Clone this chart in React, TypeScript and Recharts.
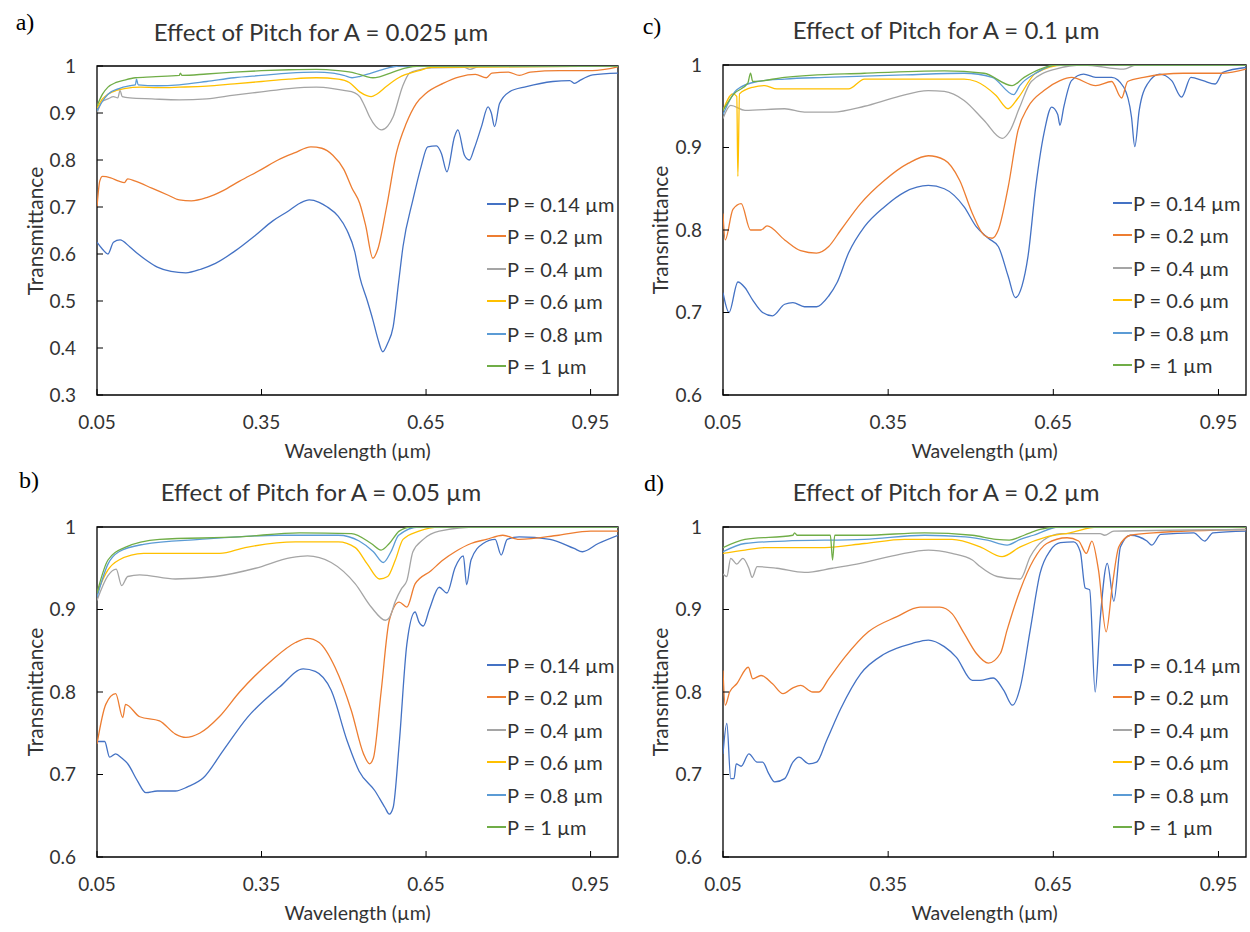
import { LineChart, Line, XAxis, YAxis, ReferenceArea, Legend } from "recharts";

type Pt = [number, number];

const PITCH_LABELS = ["P = 0.14 µm", "P = 0.2 µm", "P = 0.4 µm", "P = 0.6 µm", "P = 0.8 µm", "P = 1 µm"];
const COLORS = ["#4472C4", "#ED7D31", "#A5A5A5", "#FFC000", "#5B9BD5", "#70AD47"];
const X_TICKS = [0.05, 0.35, 0.65, 0.95];
const Y_TICKS_WIDE = [0.3, 0.4, 0.5, 0.6, 0.7, 0.8, 0.9, 1];
const Y_TICKS = [0.6, 0.7, 0.8, 0.9, 1];

// a) A = 0.025 µm
const A025_P014: Pt[] = [[0.05,0.625],[0.06,0.61],[0.07,0.6],[0.08,0.625],[0.092,0.63],[0.11,0.615],[0.125,0.6],[0.142,0.585],[0.16,0.572],[0.185,0.563],[0.212,0.56],[0.24,0.568],[0.266,0.58],[0.3,0.605],[0.339,0.64],[0.37,0.67],[0.397,0.69],[0.42,0.708],[0.437,0.715],[0.455,0.71],[0.47,0.7],[0.49,0.68],[0.506,0.65],[0.52,0.605],[0.529,0.552],[0.543,0.5],[0.553,0.46],[0.562,0.42],[0.571,0.392],[0.58,0.41],[0.59,0.445],[0.6,0.54],[0.608,0.616],[0.626,0.715],[0.641,0.786],[0.653,0.828],[0.669,0.83],[0.678,0.814],[0.688,0.775],[0.702,0.85],[0.708,0.864],[0.72,0.81],[0.729,0.8],[0.738,0.825],[0.751,0.871],[0.763,0.913],[0.769,0.9],[0.775,0.871],[0.784,0.92],[0.802,0.945],[0.833,0.956],[0.881,0.967],[0.912,0.969],[0.921,0.963],[0.93,0.969],[0.954,0.981],[1.0,0.985]];
const A025_P02: Pt[] = [[0.05,0.7],[0.055,0.755],[0.06,0.765],[0.075,0.762],[0.09,0.755],[0.1,0.752],[0.106,0.76],[0.12,0.755],[0.15,0.74],[0.18,0.725],[0.2,0.715],[0.222,0.713],[0.25,0.72],[0.28,0.735],[0.31,0.755],[0.35,0.78],[0.38,0.8],[0.41,0.815],[0.44,0.828],[0.46,0.825],[0.48,0.81],[0.5,0.78],[0.515,0.74],[0.529,0.708],[0.54,0.66],[0.553,0.591],[0.562,0.61],[0.578,0.7],[0.596,0.815],[0.614,0.878],[0.632,0.92],[0.65,0.942],[0.681,0.963],[0.711,0.977],[0.74,0.982],[0.76,0.975],[0.77,0.985],[0.8,0.987],[0.82,0.98],[0.84,0.987],[0.893,0.99],[0.953,0.99],[1.0,0.998]];
const A025_P04: Pt[] = [[0.05,0.9],[0.06,0.925],[0.07,0.93],[0.08,0.935],[0.088,0.932],[0.092,0.948],[0.096,0.935],[0.11,0.932],[0.15,0.93],[0.2,0.928],[0.25,0.93],[0.3,0.938],[0.35,0.945],[0.4,0.952],[0.45,0.955],[0.48,0.952],[0.5,0.948],[0.52,0.943],[0.529,0.935],[0.54,0.91],[0.547,0.892],[0.558,0.872],[0.569,0.864],[0.58,0.872],[0.59,0.892],[0.607,0.956],[0.62,0.985],[0.637,0.992],[0.66,0.996],[0.72,0.997],[0.73,0.993],[0.745,0.998],[1.0,1.0]];
const A025_P06: Pt[] = [[0.05,0.91],[0.06,0.93],[0.07,0.94],[0.085,0.948],[0.1,0.952],[0.13,0.955],[0.16,0.954],[0.2,0.955],[0.25,0.957],[0.3,0.962],[0.35,0.967],[0.4,0.972],[0.45,0.975],[0.49,0.972],[0.51,0.965],[0.529,0.945],[0.542,0.937],[0.55,0.935],[0.56,0.94],[0.578,0.957],[0.6,0.975],[0.637,0.99],[0.66,0.997],[1.0,1.0]];
const A025_P08: Pt[] = [[0.05,0.905],[0.06,0.925],[0.07,0.94],[0.09,0.952],[0.11,0.958],[0.12,0.96],[0.122,0.972],[0.125,0.96],[0.16,0.958],[0.2,0.96],[0.25,0.967],[0.3,0.975],[0.35,0.98],[0.4,0.985],[0.45,0.987],[0.48,0.985],[0.5,0.98],[0.515,0.975],[0.53,0.978],[0.55,0.985],[0.578,0.995],[0.6,1.0],[1.0,1.0]];
const A025_P10: Pt[] = [[0.05,0.915],[0.06,0.94],[0.07,0.955],[0.085,0.965],[0.1,0.97],[0.12,0.975],[0.15,0.977],[0.2,0.98],[0.202,0.985],[0.205,0.98],[0.25,0.983],[0.3,0.987],[0.35,0.99],[0.4,0.992],[0.45,0.993],[0.49,0.99],[0.52,0.985],[0.54,0.978],[0.553,0.975],[0.565,0.977],[0.585,0.985],[0.61,0.995],[0.64,1.0],[1.0,1.0]];

// b) A = 0.05 µm
const A05_P014: Pt[] = [[0.05,0.74],[0.064,0.74],[0.073,0.721],[0.084,0.725],[0.095,0.72],[0.106,0.713],[0.124,0.692],[0.139,0.678],[0.16,0.68],[0.193,0.68],[0.215,0.685],[0.244,0.696],[0.28,0.729],[0.324,0.769],[0.383,0.806],[0.426,0.828],[0.448,0.825],[0.477,0.802],[0.506,0.741],[0.528,0.704],[0.557,0.68],[0.575,0.66],[0.583,0.652],[0.59,0.66],[0.601,0.737],[0.615,0.858],[0.63,0.897],[0.637,0.885],[0.645,0.88],[0.656,0.9],[0.674,0.927],[0.688,0.92],[0.703,0.951],[0.718,0.965],[0.724,0.93],[0.732,0.96],[0.754,0.98],[0.776,0.985],[0.787,0.966],[0.798,0.985],[0.82,0.988],[0.876,0.985],[0.92,0.974],[0.935,0.97],[0.964,0.98],[1.0,0.99]];
const A05_P02: Pt[] = [[0.05,0.737],[0.066,0.785],[0.084,0.798],[0.097,0.769],[0.102,0.785],[0.128,0.77],[0.164,0.765],[0.193,0.749],[0.212,0.745],[0.237,0.75],[0.273,0.77],[0.31,0.8],[0.368,0.838],[0.412,0.86],[0.434,0.865],[0.455,0.86],[0.484,0.83],[0.514,0.777],[0.536,0.725],[0.547,0.713],[0.554,0.72],[0.568,0.8],[0.583,0.887],[0.601,0.909],[0.615,0.903],[0.63,0.931],[0.659,0.947],[0.681,0.96],[0.703,0.97],[0.732,0.98],[0.76,0.985],[0.79,0.99],[0.82,0.985],[0.892,0.99],[0.95,0.995],[1.0,0.995]];
const A05_P04: Pt[] = [[0.05,0.911],[0.07,0.941],[0.085,0.949],[0.095,0.929],[0.106,0.94],[0.128,0.942],[0.193,0.937],[0.266,0.94],[0.339,0.95],[0.404,0.963],[0.434,0.965],[0.477,0.957],[0.521,0.931],[0.55,0.903],[0.576,0.887],[0.583,0.89],[0.594,0.91],[0.605,0.925],[0.615,0.935],[0.626,0.97],[0.645,0.985],[0.674,0.995],[0.746,1.0],[1.0,1.0]];
const A05_P06: Pt[] = [[0.05,0.92],[0.07,0.948],[0.09,0.96],[0.135,0.968],[0.274,0.968],[0.32,0.975],[0.412,0.982],[0.49,0.982],[0.521,0.975],[0.543,0.955],[0.565,0.937],[0.58,0.94],[0.594,0.96],[0.608,0.985],[0.637,0.995],[0.674,1.0],[1.0,1.0]];
const A05_P08: Pt[] = [[0.05,0.915],[0.07,0.955],[0.09,0.97],[0.135,0.979],[0.237,0.985],[0.383,0.99],[0.49,0.99],[0.528,0.983],[0.554,0.97],[0.572,0.957],[0.586,0.97],[0.6,0.99],[0.637,1.0],[1.0,1.0]];
const A05_P10: Pt[] = [[0.05,0.92],[0.07,0.96],[0.1,0.975],[0.164,0.985],[0.31,0.988],[0.419,0.993],[0.514,0.992],[0.55,0.98],[0.568,0.972],[0.583,0.98],[0.601,0.995],[0.623,1.0],[1.0,1.0]];

// c) A = 0.1 µm
const A1_P014: Pt[] = [[0.05,0.724],[0.061,0.7],[0.077,0.737],[0.09,0.73],[0.104,0.715],[0.122,0.7],[0.14,0.696],[0.162,0.71],[0.177,0.712],[0.198,0.707],[0.22,0.707],[0.242,0.72],[0.257,0.736],[0.278,0.772],[0.307,0.804],[0.343,0.828],[0.38,0.846],[0.423,0.854],[0.452,0.85],[0.488,0.828],[0.51,0.804],[0.532,0.79],[0.55,0.78],[0.568,0.744],[0.581,0.718],[0.593,0.732],[0.604,0.768],[0.618,0.852],[0.633,0.917],[0.647,0.949],[0.658,0.94],[0.662,0.927],[0.669,0.949],[0.683,0.981],[0.705,0.989],[0.727,0.985],[0.756,0.985],[0.778,0.973],[0.792,0.937],[0.798,0.901],[0.806,0.945],[0.821,0.977],[0.843,0.989],[0.865,0.981],[0.883,0.961],[0.9,0.985],[0.922,0.981],[0.944,0.977],[0.958,0.991],[1.0,0.997]];
const A1_P02: Pt[] = [[0.05,0.82],[0.054,0.788],[0.068,0.825],[0.083,0.832],[0.1,0.8],[0.119,0.8],[0.13,0.805],[0.162,0.788],[0.191,0.775],[0.22,0.772],[0.242,0.78],[0.264,0.8],[0.3,0.832],[0.343,0.86],[0.387,0.881],[0.423,0.89],[0.452,0.885],[0.48,0.86],[0.503,0.82],[0.524,0.794],[0.539,0.79],[0.55,0.8],[0.568,0.852],[0.586,0.921],[0.604,0.949],[0.633,0.969],[0.662,0.981],[0.683,0.985],[0.727,0.975],[0.756,0.98],[0.774,0.96],[0.785,0.98],[0.814,0.985],[0.886,0.99],[0.958,0.99],[1.0,0.995]];
const A1_P04: Pt[] = [[0.05,0.935],[0.064,0.951],[0.09,0.945],[0.162,0.947],[0.198,0.943],[0.25,0.943],[0.307,0.95],[0.365,0.961],[0.423,0.969],[0.452,0.968],[0.488,0.957],[0.524,0.933],[0.557,0.911],[0.571,0.92],[0.589,0.949],[0.61,0.98],[0.654,0.995],[0.705,1.0],[0.778,0.995],[0.8,1.0],[1.0,1.0]];
const A1_P06: Pt[] = [[0.05,0.945],[0.068,0.965],[0.075,0.962],[0.077,0.865],[0.08,0.965],[0.104,0.973],[0.126,0.975],[0.148,0.971],[0.278,0.971],[0.307,0.983],[0.38,0.983],[0.488,0.983],[0.51,0.98],[0.546,0.963],[0.568,0.947],[0.586,0.96],[0.618,0.99],[0.669,1.0],[1.0,1.0]];
const A1_P08: Pt[] = [[0.05,0.94],[0.075,0.97],[0.112,0.98],[0.162,0.983],[0.235,0.985],[0.38,0.988],[0.488,0.99],[0.539,0.985],[0.578,0.964],[0.589,0.975],[0.618,0.99],[0.654,1.0],[1.0,1.0]];
const A1_P10: Pt[] = [[0.05,0.945],[0.07,0.965],[0.095,0.978],[0.1,0.99],[0.104,0.98],[0.162,0.985],[0.307,0.99],[0.452,0.993],[0.524,0.99],[0.575,0.975],[0.597,0.985],[0.626,0.995],[0.654,1.0],[1.0,1.0]];

// d) A = 0.2 µm
const A2_P014: Pt[] = [[0.05,0.725],[0.057,0.762],[0.064,0.695],[0.07,0.695],[0.074,0.713],[0.083,0.71],[0.097,0.725],[0.112,0.715],[0.122,0.715],[0.133,0.701],[0.144,0.691],[0.162,0.695],[0.177,0.715],[0.188,0.721],[0.206,0.713],[0.22,0.715],[0.238,0.741],[0.264,0.78],[0.3,0.822],[0.343,0.846],[0.394,0.859],[0.423,0.863],[0.452,0.855],[0.474,0.842],[0.503,0.814],[0.517,0.814],[0.541,0.817],[0.56,0.802],[0.576,0.784],[0.59,0.806],[0.608,0.875],[0.626,0.944],[0.645,0.972],[0.663,0.981],[0.687,0.982],[0.699,0.97],[0.708,0.926],[0.716,0.924],[0.726,0.8],[0.735,0.887],[0.748,0.956],[0.76,0.91],[0.772,0.976],[0.79,0.99],[0.82,0.983],[0.829,0.978],[0.845,0.991],[0.905,0.993],[0.925,0.983],[0.94,0.993],[1.0,0.995]];
const A2_P02: Pt[] = [[0.05,0.826],[0.054,0.784],[0.062,0.8],[0.075,0.81],[0.096,0.83],[0.104,0.816],[0.119,0.82],[0.14,0.81],[0.159,0.798],[0.177,0.805],[0.191,0.808],[0.213,0.8],[0.224,0.8],[0.242,0.816],[0.271,0.842],[0.314,0.873],[0.365,0.891],[0.408,0.903],[0.444,0.903],[0.466,0.895],[0.488,0.871],[0.51,0.847],[0.532,0.835],[0.554,0.847],[0.566,0.875],[0.59,0.924],[0.614,0.96],[0.638,0.98],[0.675,0.987],[0.696,0.983],[0.71,0.968],[0.72,0.983],[0.732,0.948],[0.746,0.873],[0.757,0.928],[0.769,0.976],[0.79,0.99],[0.832,0.993],[1.0,0.997]];
const A2_P04: Pt[] = [[0.05,0.943],[0.057,0.94],[0.064,0.962],[0.075,0.955],[0.086,0.962],[0.097,0.95],[0.103,0.939],[0.112,0.952],[0.148,0.95],[0.198,0.945],[0.249,0.95],[0.293,0.955],[0.365,0.966],[0.423,0.972],[0.466,0.968],[0.503,0.96],[0.517,0.952],[0.548,0.94],[0.59,0.937],[0.608,0.964],[0.632,0.984],[0.665,0.992],[0.735,0.992],[0.743,0.99],[0.76,0.995],[1.0,0.997]];
const A2_P06: Pt[] = [[0.05,0.968],[0.09,0.972],[0.126,0.975],[0.235,0.975],[0.307,0.98],[0.38,0.985],[0.466,0.985],[0.517,0.976],[0.557,0.964],[0.59,0.976],[0.638,0.988],[0.68,0.993],[0.73,1.0],[1.0,1.0]];
const A2_P08: Pt[] = [[0.05,0.97],[0.09,0.98],[0.162,0.983],[0.307,0.985],[0.416,0.99],[0.49,0.988],[0.53,0.984],[0.566,0.978],[0.59,0.985],[0.614,0.99],[0.66,1.0],[1.0,1.0]];
const A2_P10: Pt[] = [[0.05,0.975],[0.09,0.985],[0.177,0.99],[0.18,0.993],[0.185,0.99],[0.245,0.99],[0.249,0.96],[0.253,0.99],[0.307,0.99],[0.416,0.993],[0.503,0.99],[0.546,0.985],[0.57,0.984],[0.597,0.99],[0.626,0.997],[0.66,1.0],[1.0,1.0]];

const FONT = "Lato, 'Open Sans', sans-serif";
const TEXT = "#333";
const W = 625;
const H = 466;

type PanelProps = {
  left: number; top: number;
  plot: { l: number; t: number; r: number; b: number };
  letter: string; letterPos: [number, number];
  title: string; titleY: number;
  yMin: number; yTicks: number[];
  series: Pt[][];
};

const XTick = (props: any) => {
  const { x, y, payload } = props;
  return (
    <g>
      <line x1={x} x2={x} y1={y} y2={y - 6} stroke="#000" strokeWidth={1} />
      <text x={x} y={y + 27} dy="0.35em" textAnchor="middle" fill={TEXT} fontSize={19} fontFamily={FONT}>
        {String(payload.value)}
      </text>
    </g>
  );
};

const YTick = (props: any) => {
  const { x, y, payload } = props;
  return (
    <g>
      <line x1={x} x2={x + 6} y1={y} y2={y} stroke="#000" strokeWidth={1} />
      <text x={x - 21} y={y} dy="0.35em" textAnchor="end" fill={TEXT} fontSize={19} fontFamily={FONT}>
        {String(payload.value)}
      </text>
    </g>
  );
};

// legend drawn from our own label/colour lists so the order and swatches stay fixed
const renderLegend = () => (
  <div style={{ fontFamily: FONT, fontSize: 20, color: TEXT }}>
    {PITCH_LABELS.map((label, i) => (
      <div key={label} style={{ display: "flex", alignItems: "center", height: 32, marginBottom: i === 5 ? 0 : 0.4, whiteSpace: "nowrap" }}>
        <svg width={19} height={6} style={{ marginRight: 1, flex: "none" }}>
          <line x1={0} x2={19} y1={3} y2={3} stroke={COLORS[i]} strokeWidth={2} />
        </svg>
        <span>{label}</span>
      </div>
    ))}
  </div>
);

function Panel({ left, top, plot, letter, letterPos, title, titleY, yMin, yTicks, series }: PanelProps) {
  const center: React.CSSProperties = {
    position: "absolute", transform: "translate(-50%, -50%)", whiteSpace: "nowrap", lineHeight: 1,
    fontFamily: FONT, color: TEXT,
  };
  return (
    <div style={{ position: "absolute", left, top, width: W, height: H }}>
      <LineChart width={W} height={H} margin={{ top: plot.t, right: W - plot.r, bottom: 0, left: 0 }}>
        <XAxis
          type="number" dataKey="x" domain={[0.05, 1]} ticks={X_TICKS} interval={0}
          allowDataOverflow axisLine={false} tickLine={false} tickSize={0} tickMargin={0}
          height={H - plot.b} tick={<XTick />}
        />
        <YAxis
          type="number" domain={[yMin, 1]} ticks={yTicks} interval={0}
          allowDataOverflow axisLine={false} tickLine={false} tickSize={0} tickMargin={0}
          width={plot.l} tick={<YTick />}
        />
        {series.map((s, i) => (
          <Line
            key={PITCH_LABELS[i]} name={PITCH_LABELS[i]} data={s.map(([x, y]) => ({ x, y }))}
            dataKey="y" type="monotone" stroke={COLORS[i]} strokeWidth={1.3} dot={false}
            activeDot={false} isAnimationActive={false}
          />
        ))}
        <ReferenceArea x1={0.05} x2={1} y1={yMin} y2={1} fill="none" stroke="#000" strokeWidth={1.3} />
        <Legend
          layout="vertical" align="center" verticalAlign="middle" content={renderLegend}
          wrapperStyle={{ left: plot.l + 390, top: plot.t + 122, width: 140 }}
        />
      </LineChart>
      <div style={{ ...center, left: letterPos[0], top: letterPos[1], fontFamily: "'Liberation Serif', serif", fontSize: 24, color: "#000" }}>
        {letter}
      </div>
      <div style={{ ...center, left: 321, top: titleY, fontSize: 24 }}>{title}</div>
      <div style={{ ...center, left: (plot.l + plot.r) / 2, top: plot.b + 56, fontSize: 19.5 }}>Wavelength (µm)</div>
      <div style={{ ...center, left: 34, top: (plot.t + plot.b) / 2, fontSize: 21, transform: "translate(-50%, -50%) rotate(-90deg)" }}>
        Transmittance
      </div>
    </div>
  );
}

export default function App() {
  return (
    <div style={{ position: "absolute", left: 0, top: 0, width: 1250, height: 932, background: "#fff", overflow: "hidden" }}>
      <Panel
        left={0} top={0} plot={{ l: 97, t: 66, r: 618, b: 395 }} letter="a)" letterPos={[25, 22]}
        title="Effect of Pitch for A = 0.025 µm" titleY={32} yMin={0.3} yTicks={Y_TICKS_WIDE}
        series={[A025_P014, A025_P02, A025_P04, A025_P06, A025_P08, A025_P10]}
      />
      <Panel
        left={625} top={0} plot={{ l: 98, t: 65, r: 621, b: 395 }} letter="c)" letterPos={[27, 26]}
        title="Effect of Pitch for A = 0.1 µm" titleY={30} yMin={0.6} yTicks={Y_TICKS}
        series={[A1_P014, A1_P02, A1_P04, A1_P06, A1_P08, A1_P10]}
      />
      <Panel
        left={0} top={466} plot={{ l: 97, t: 61, r: 618, b: 391 }} letter="b)" letterPos={[29, 14]}
        title="Effect of Pitch for A = 0.05 µm" titleY={26} yMin={0.6} yTicks={Y_TICKS}
        series={[A05_P014, A05_P02, A05_P04, A05_P06, A05_P08, A05_P10]}
      />
      <Panel
        left={625} top={466} plot={{ l: 98, t: 61, r: 621, b: 391 }} letter="d)" letterPos={[29, 17]}
        title="Effect of Pitch for A = 0.2 µm" titleY={26} yMin={0.6} yTicks={Y_TICKS}
        series={[A2_P014, A2_P02, A2_P04, A2_P06, A2_P08, A2_P10]}
      />
    </div>
  );
}
